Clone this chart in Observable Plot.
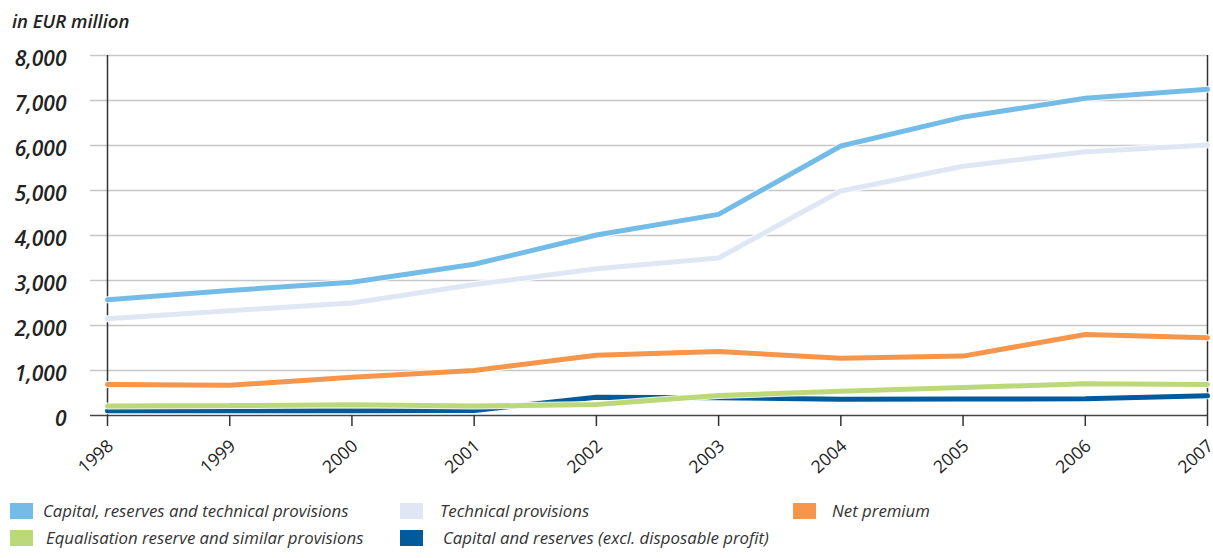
<!DOCTYPE html>
<html>
<head>
<meta charset="utf-8">
<script src="https://cdn.jsdelivr.net/npm/d3@7"></script>
<script src="https://cdn.jsdelivr.net/npm/@observablehq/plot@0.6"></script>
<style>
  html, body { margin: 0; padding: 0; background: #fff; }
  body { width: 1213px; height: 558px; overflow: hidden; font-family: "Open Sans", sans-serif; color: #222; }
  #title { height: 40px; position: relative; }
  #title span { position: absolute; left: 12px; top: 8px; font-size: 18.5px; font-style: italic; font-weight: 600; color: #222; }
  #legend { position: relative; height: 68px; }
  .sw { position: absolute; width: 23px; height: 16px; }
  .lt { position: absolute; font-size: 16.8px; font-style: italic; color: #333; white-space: nowrap; line-height: 20px; }
</style>
</head>
<body>
<div id="title"><span>in EUR million</span></div>
<div id="chart"></div>
<div id="legend"></div>
<script>
const years = [1998, 1999, 2000, 2001, 2002, 2003, 2004, 2005, 2006, 2007];
const capitalReservesTechnical = [2570, 2780, 2960, 3360, 4010, 4470, 5990, 6630, 7050, 7250];
const technicalProvisions = [2150, 2330, 2500, 2910, 3260, 3500, 4990, 5540, 5860, 6010];
const netPremium = [690, 670, 850, 1000, 1340, 1420, 1270, 1320, 1800, 1730];
const equalisationReserve = [210, 220, 237, 210, 244, 444, 537, 622, 704, 690];
const capitalAndReserves = [104, 104, 104, 111, 407, 393, 363, 368, 370, 437];
const yTicks = [0, 1000, 2000, 3000, 4000, 5000, 6000, 7000, 8000];

const seriesNames = [
  "Capital, reserves and technical provisions",
  "Technical provisions",
  "Net premium",
  "Equalisation reserve and similar provisions",
  "Capital and reserves (excl. disposable profit)"
];
const seriesColors = ["#74bce8", "#dfe7f5", "#f7954a", "#bcd97a", "#005a9b"];
const seriesValues = [capitalReservesTechnical, technicalProvisions, netPremium, equalisationReserve, capitalAndReserves];
// draw order: technical, capital+tech, net premium, capital & reserves, equalisation
const drawOrder = [1, 0, 2, 4, 3];

const data = [];
seriesNames.forEach((name, i) => {
  years.forEach((yr, j) => data.push({series: name, year: yr, value: seriesValues[i][j]}));
});

const marks = [
  Plot.ruleY(yTicks.filter(d => d > 0), {stroke: "#c6c6c6", strokeWidth: 1.5, insetLeft: -17}),
  Plot.ruleY([0], {stroke: "#444", strokeWidth: 1.5, insetLeft: -17}),
  Plot.ruleX([1998, 2007], {y1: 0, y2: 8000, stroke: "#333", strokeWidth: 1.5}),
  Plot.axisY({ticks: yTicks, tickSize: 0, tickPadding: 41, tickFormat: d3.format(","), fontSize: 21, fontStyle: "italic", fontWeight: 600, dy: 4, fill: "#222", label: null}),
  Plot.ruleX(years, {x: d => d, y1: 0, y2: 0, insetBottom: -11, stroke: "#333", strokeWidth: 1.5}),
  Plot.text(years, {x: d => d, frameAnchor: "bottom", text: d => String(d), rotate: -42, textAnchor: "end", dx: 7, dy: 32, fontSize: 17.5, fill: "#222"})
];
drawOrder.forEach(i => {
  const rows = data.filter(d => d.series === seriesNames[i]);
  marks.push(Plot.line(rows, {x: "year", y: "value", stroke: "#fff", strokeWidth: 7, strokeLinejoin: "miter", strokeOpacity: 0.9}));
  marks.push(Plot.line(rows, {x: "year", y: "value", stroke: seriesColors[i], strokeWidth: 5, strokeLinejoin: "miter"}));
});

const chart = Plot.plot({
  width: 1213,
  height: 450,
  marginTop: 15,
  marginBottom: 75,
  marginLeft: 107,
  marginRight: 6,
  style: {fontFamily: "'Open Sans', sans-serif", background: "#fff", overflow: "visible"},
  x: {type: "linear", domain: [1998, 2007], label: null, axis: null},
  y: {domain: [0, 8000], label: null},
  marks
});
document.getElementById("chart").appendChild(chart);

const legendPos = [
  {sx: 10, tx: 43, row: 0},
  {sx: 400, tx: 440, row: 0},
  {sx: 793, tx: 832, row: 0},
  {sx: 10, tx: 46, row: 1},
  {sx: 400, tx: 443, row: 1}
];
const legend = document.getElementById("legend");
seriesNames.forEach((name, i) => {
  const p = legendPos[i];
  const top = 13 + p.row * 27;
  const sw = document.createElement("div");
  sw.className = "sw";
  sw.style.left = p.sx + "px";
  sw.style.top = top + "px";
  sw.style.background = seriesColors[i];
  legend.appendChild(sw);
  const t = document.createElement("div");
  t.className = "lt";
  t.style.left = p.tx + "px";
  t.style.top = (top - 2) + "px";
  t.textContent = name;
  legend.appendChild(t);
});
</script>
</body>
</html>
